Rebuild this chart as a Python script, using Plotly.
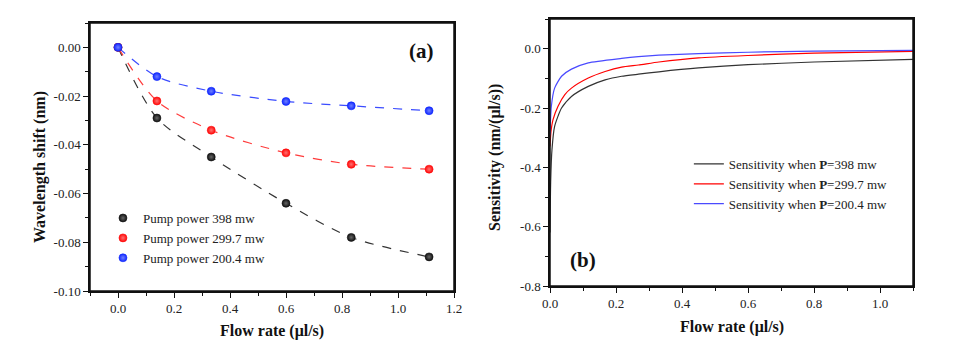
import plotly.graph_objects as go

# (a) measured wavelength shift vs flow rate
flow_a = [0.0, 0.139, 0.333, 0.6, 0.833, 1.111]
shift_398 = [0.0, -0.029, -0.045, -0.064, -0.078, -0.086]
shift_2997 = [0.0, -0.022, -0.034, -0.0433, -0.048, -0.050]
shift_2004 = [0.0, -0.012, -0.018, -0.0222, -0.024, -0.026]

# (b) sensitivity curves
flow_b_398 = [0.0, 0.002, 0.006, 0.014, 0.035, 0.065, 0.116, 0.167, 0.217, 0.268, 0.33, 0.45, 0.6, 0.8, 1.1]
sens_398 = [-0.62, -0.45, -0.34, -0.262, -0.2, -0.161, -0.127, -0.105, -0.093, -0.086, -0.078, -0.065, -0.054, -0.045, -0.036]
flow_b_2997 = [0.0, 0.003, 0.009, 0.024, 0.045, 0.065, 0.116, 0.167, 0.217, 0.268, 0.33, 0.45, 0.6, 0.8, 1.1]
sens_2997 = [-0.33, -0.28, -0.24, -0.195, -0.155, -0.133, -0.099, -0.077, -0.062, -0.055, -0.045, -0.031, -0.023, -0.015, -0.009]
flow_b_2004 = [0.0, 0.004, 0.014, 0.035, 0.065, 0.116, 0.217, 0.268, 0.33, 0.45, 0.6, 0.8, 1.1]
sens_2004 = [-0.29, -0.195, -0.133, -0.093, -0.069, -0.048, -0.033, -0.027, -0.022, -0.017, -0.012, -0.008, -0.006]

labels_a = ["Pump power 398 mw", "Pump power 299.7 mw", "Pump power 200.4 mw"]
labels_b = ["Sensitivity when <b>P</b>=398 mw", "Sensitivity when <b>P</b>=299.7 mw",
            "Sensitivity when <b>P</b>=200.4 mw"]

xa_ticks = [0.0, 0.2, 0.4, 0.6, 0.8, 1.0, 1.2]
ya_ticks = [0.0, -0.02, -0.04, -0.06, -0.08, -0.10]
xb_ticks = [0.0, 0.2, 0.4, 0.6, 0.8, 1.0]
yb_ticks = [0.0, -0.2, -0.4, -0.6, -0.8]

FONT = "Liberation Serif, Times New Roman, serif"
AX = "#111"
W, H = 971, 338   # page body keeps an 8px margin


def px(x, y):
    return x / W, 1 - y / H


dash_cols = ["#333333", "#ff3b3b", "#3b4cff"]
dot_cols = ["#111111", "#ff0a0a", "#1028ff"]
dot_glow = ["#666666", "#ff7070", "#7080ff"]
line_cols = ["#333333", "#ff0000", "#4a4aff"]

fig = go.Figure()

for ys, dc in zip([shift_398, shift_2997, shift_2004], dash_cols):
    fig.add_trace(go.Scatter(
        x=flow_a, y=ys, mode="lines", showlegend=False,
        line=dict(color=dc, width=1.2, dash="dash", shape="spline", smoothing=0.8),
        xaxis="x", yaxis="y"
    ))

for ys, mc, gc, lab in zip([shift_398, shift_2997, shift_2004], dot_cols, dot_glow, labels_a):
    fig.add_trace(go.Scatter(
        x=flow_a, y=ys, mode="markers", name=lab, legend="legend",
        marker=dict(size=8, color=mc, gradient=dict(type="radial", color=gc),
                    line=dict(width=0.6, color=mc)),
        xaxis="x", yaxis="y"
    ))

for xs, ys, lc, lab in zip([flow_b_398, flow_b_2997, flow_b_2004],
                           [sens_398, sens_2997, sens_2004], line_cols, labels_b):
    fig.add_trace(go.Scatter(
        x=xs, y=ys, mode="lines", name=lab, legend="legend2",
        line=dict(color=lc, width=1.2, shape="spline", smoothing=0.6),
        xaxis="x2", yaxis="y2"
    ))


def fmt(v, nd):
    s = f"{abs(v):.{nd}f}"
    return ("-" + s) if v < 0 else s


axis_common = dict(
    showline=True, linecolor=AX, linewidth=1.5, mirror=True,
    ticks="outside", ticklen=5, tickwidth=1.2, tickcolor=AX,
    showgrid=False, zeroline=False, automargin=False,
    tickfont=dict(family=FONT, size=13, color="#222"),
)
minor_common = dict(ticks="outside", ticklen=3, tickcolor=AX)


def note(text, x, y, size, angle=0):
    ax, ay = px(x, y)
    return dict(text=text, x=ax, y=ay, xref="paper", yref="paper", showarrow=False,
                xanchor="center", yanchor="middle", textangle=angle,
                font=dict(family=FONT, size=size, color="#111"))


def frame(xa, ya):
    # full box round each panel
    return dict(type="rect", xref=f"{xa} domain", yref=f"{ya} domain",
                x0=0, x1=1, y0=0, y1=1, line=dict(color=AX, width=1.5), layer="above")


xa_dom = [82 / W, 446 / W]
ya_dom = [1 - 283 / H, 1 - 15 / H]
xb_dom = [542 / W, 905 / W]
yb_dom = [1 - 278 / H, 1 - 11 / H]

fig.update_layout(
    width=W, height=H, autosize=False,
    margin=dict(l=0, r=0, t=0, b=0, autoexpand=False),
    paper_bgcolor="white", plot_bgcolor="white",
    font=dict(family=FONT, color="#222"),
    xaxis=dict(domain=xa_dom, range=[-0.1, 1.2], anchor="y",
               tickmode="array", tickvals=xa_ticks, ticktext=[fmt(v, 1) for v in xa_ticks],
               minor=dict(dtick=0.1, tick0=0.1, **minor_common), **axis_common),
    yaxis=dict(domain=ya_dom, range=[-0.1, 0.01], anchor="x",
               tickmode="array", tickvals=ya_ticks, ticktext=[fmt(v, 2) for v in ya_ticks],
               minor=dict(dtick=0.01, tick0=-0.01, **minor_common), **axis_common),
    xaxis2=dict(domain=xb_dom, range=[0, 1.1], anchor="y2",
                tickmode="array", tickvals=xb_ticks, ticktext=[fmt(v, 1) for v in xb_ticks],
                minor=dict(dtick=0.1, tick0=0.1, **minor_common), **axis_common),
    yaxis2=dict(domain=yb_dom, range=[-0.8, 0.1], anchor="x2",
                tickmode="array", tickvals=yb_ticks, ticktext=[fmt(v, 1) for v in yb_ticks],
                minor=dict(dtick=0.1, tick0=-0.1, **minor_common), **axis_common),
    legend=dict(x=0.0978, y=0.423, xanchor="left", yanchor="top",
                bgcolor="rgba(0,0,0,0)", font=dict(family=FONT, size=13, color="#222"),
                tracegroupgap=0),
    legend2=dict(x=0.7012, y=0.583, xanchor="left", yanchor="top",
                 bgcolor="rgba(0,0,0,0)", font=dict(family=FONT, size=13, color="#222"),
                 tracegroupgap=0),
    shapes=[frame("x", "y"), frame("x2", "y2")],
    annotations=[
        note("<b>(a)</b>", 413, 43, 21),
        note("<b>(b)</b>", 575, 252, 21),
        note("<b>Flow rate (μl/s)</b>", 264, 323, 16),
        note("<b>Flow rate (μl/s)</b>", 724, 319, 16),
        note("<b>Wavelength shift (nm)</b>", 32, 159, 16, -90),
        note("<b>Sensitivity (nm/(μl/s))</b>", 487, 149, 16, -90),
    ],
)

fig.write_html("out.html")
